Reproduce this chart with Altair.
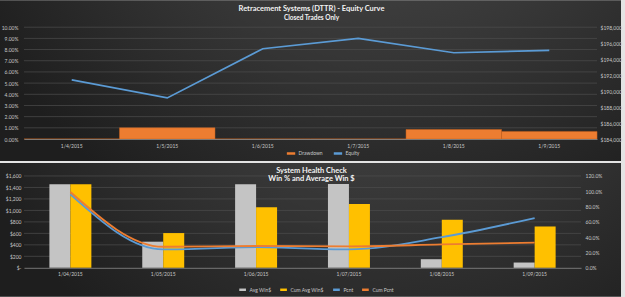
import altair as alt
import pandas as pd

# ---- Equity curve (closed trades) ----
top_dates = ["1/4/2015", "1/5/2015", "1/6/2015", "1/7/2015", "1/8/2015", "1/9/2015"]
drawdown = [0.0, 0.010, 0.0, 0.0, 0.0085, 0.0068]
equity = [191400, 189150, 195300, 196600, 194800, 195100]
pct_ticks = [0.00, 0.01, 0.02, 0.03, 0.04, 0.05, 0.06, 0.07, 0.08, 0.09, 0.10]
equity_ticks = [184000, 186000, 188000, 190000, 192000, 194000, 196000, 198000]

# ---- System health check ----
bottom_dates = ["1/04/2015", "1/05/2015", "1/06/2015", "1/07/2015", "1/08/2015", "1/09/2015"]
avg_win = [1455, 455, 1455, 1460, 150, 92]
cum_avg_win = [1455, 605, 1055, 1110, 835, 720]
pcnt = [0.96, 0.24, 0.27, 0.24, 0.40, 0.65]
cum_pcnt = [0.99, 0.275, 0.285, 0.28, 0.305, 0.33]
dollar_ticks = [0, 200, 400, 600, 800, 1000, 1200, 1400, 1600]
win_pct_ticks = [0.0, 0.2, 0.4, 0.6, 0.8, 1.0, 1.2]

FONT = "Lato"
LABEL = "#c8c8c8"
GRID = "#4e4e4e"
LEFT = 24  # room for the left axis labels in both panels

panel_fill = alt.RadialGradient(
    gradient="radial",
    x1=0.62, y1=0.05, r1=0.0,
    x2=0.62, y2=0.05, r2=0.75,
    stops=[
        alt.GradientStop(offset=0, color="#525252"),
        alt.GradientStop(offset=0.55, color="#363636"),
        alt.GradientStop(offset=1, color="#1e1e1e"),
    ],
)

one_row = alt.Data(values=[{}])


def axis_style(**kw):
    base = dict(labelFont=FONT, labelFontSize=5, labelColor=LABEL, domain=False,
                ticks=False, grid=False, title=None, labelPadding=2, zindex=1)
    base.update(kw)
    return alt.Axis(**base)


# ================= top panel =================
TW, TH = 574, 112

top_df = pd.DataFrame({"Date": top_dates, "Drawdown": drawdown, "Equity": equity})
top_grid_df = pd.DataFrame({"v": pct_ticks[1:]})

top_x = alt.X("Date:N", sort=top_dates,
              scale=alt.Scale(domain=top_dates, paddingInner=0, paddingOuter=0),
              axis=axis_style(labelAngle=0, domain=True, domainColor="#8c8c8c",
                              domainWidth=0.8, labelPadding=4))

top_pct_axis = axis_style(orient="left", values=pct_ticks, format=".2%", labelPadding=6)
top_pct_scale = alt.Scale(domain=[0, 0.10], nice=False)
top_colors = alt.Scale(domain=["Drawdown", "Equity"], range=["#ed7d31", "#5b9bd5"])

top_bg = alt.Chart(one_row).mark_rect(fill=panel_fill).encode(
    x=alt.value(-LEFT), x2=alt.value(622 - LEFT), y=alt.value(-27), y2=alt.value(TH + 22)
)

top_grid = alt.Chart(top_grid_df).mark_rule(color=GRID, strokeWidth=0.7).encode(
    y=alt.Y("v:Q", scale=top_pct_scale, axis=top_pct_axis)
)

dd_bars = alt.Chart(top_df).transform_calculate(s="'Drawdown'").mark_bar(
    stroke="#c8641e", strokeWidth=0.5
).encode(
    x=top_x,
    y=alt.Y("Drawdown:Q", scale=top_pct_scale, axis=top_pct_axis),
    color=alt.Color("s:N", scale=top_colors,
                    legend=alt.Legend(orient="none", legendX=262, legendY=121,
                                      direction="horizontal", title=None)),
)

equity_line = alt.Chart(top_df).transform_calculate(s="'Equity'").mark_line(
    strokeWidth=1.6
).encode(
    x=top_x,
    y=alt.Y("Equity:Q", scale=alt.Scale(domain=[184000, 198000], nice=False, zero=False),
            axis=axis_style(orient="right", values=equity_ticks, format="$,.0f",
                            labelPadding=3)),
    color=alt.Color("s:N", scale=top_colors),
)

top_title = alt.Chart(one_row).mark_text(
    text="Retracement Systems (DTTR) - Equity Curve", font=FONT, fontSize=7.5,
    fontWeight="bold", color="#f2f2f2", align="center", baseline="middle"
).encode(x=alt.value(312 - LEFT), y=alt.value(-18))

top_sub = alt.Chart(one_row).mark_text(
    text="Closed Trades Only", font=FONT, fontSize=6.5, fontWeight="bold",
    color="#f2f2f2", align="center", baseline="middle"
).encode(x=alt.value(312 - LEFT), y=alt.value(-9.5))

top = alt.layer(
    top_bg, alt.layer(top_grid, dd_bars), equity_line, top_title, top_sub
).resolve_scale(y="independent").properties(width=TW, height=TH)

# ================= bottom panel =================
BW, BH = 558, 92

bar_df = pd.DataFrame({
    "Date": bottom_dates * 2,
    "Series": ["Avg Win$"] * 6 + ["Cum Avg Win$"] * 6,
    "Value": avg_win + cum_avg_win,
})
line_df = pd.DataFrame({
    "Date": bottom_dates * 2,
    "Series": ["Pcnt"] * 6 + ["Cum Pcnt"] * 6,
    "Pct": pcnt + cum_pcnt,
})
bottom_grid_df = pd.DataFrame({"v": dollar_ticks[1:]})

series_names = ["Avg Win$", "Cum Avg Win$", "Pcnt", "Cum Pcnt"]
bottom_colors = alt.Scale(domain=series_names,
                          range=["#c4c4c4", "#ffc000", "#5b9bd5", "#ed7d31"])

bottom_x = alt.X("Date:N", sort=bottom_dates,
                 scale=alt.Scale(domain=bottom_dates, paddingInner=0.548, paddingOuter=0.274),
                 axis=axis_style(labelAngle=0, domain=True, domainColor="#8c8c8c",
                                 domainWidth=0.8, labelPadding=4))

dollar_axis = axis_style(orient="left", values=dollar_ticks, labelPadding=3,
                         labelExpr="datum.value == 0 ? '$-' : format(datum.value, '$,')")
dollar_scale = alt.Scale(domain=[0, 1600], nice=False)

bottom_bg = alt.Chart(one_row).mark_rect(fill=panel_fill).encode(
    x=alt.value(-LEFT), x2=alt.value(622 - LEFT), y=alt.value(-13), y2=alt.value(BH + 29)
)

bottom_grid = alt.Chart(bottom_grid_df).mark_rule(color=GRID, strokeWidth=0.7).encode(
    y=alt.Y("v:Q", scale=dollar_scale, axis=dollar_axis)
)

win_bars = alt.Chart(bar_df).mark_bar().encode(
    x=bottom_x,
    xOffset=alt.XOffset("Series:N", sort=["Avg Win$", "Cum Avg Win$"],
                        scale=alt.Scale(domain=["Avg Win$", "Cum Avg Win$"],
                                        paddingInner=0, paddingOuter=0)),
    y=alt.Y("Value:Q", scale=dollar_scale, axis=dollar_axis),
    color=alt.Color("Series:N", scale=bottom_colors,
                    legend=alt.Legend(orient="none", legendX=214, legendY=109,
                                      direction="horizontal", title=None,
                                      columnPadding=3, symbolSize=45)),
)

pct_lines = alt.Chart(line_df).mark_line(strokeWidth=1.8, interpolate="monotone").encode(
    x=bottom_x,
    y=alt.Y("Pct:Q", scale=alt.Scale(domain=[0, 1.2], nice=False),
            axis=axis_style(orient="right", values=win_pct_ticks, format=".1%",
                            labelPadding=4)),
    color=alt.Color("Series:N", scale=bottom_colors),
    detail="Series:N",
)

bottom_title = alt.Chart(one_row).mark_text(
    text="System Health Check", font=FONT, fontSize=7.5, fontWeight="bold",
    color="#f2f2f2", align="center", baseline="middle"
).encode(x=alt.value(312 - LEFT), y=alt.value(-4.5))

bottom_sub = alt.Chart(one_row).mark_text(
    text="Win % and Average Win $", font=FONT, fontSize=7.5, fontWeight="bold",
    color="#f2f2f2", align="center", baseline="middle"
).encode(x=alt.value(312 - LEFT), y=alt.value(3.2))

bottom = alt.layer(
    bottom_bg, alt.layer(bottom_grid, win_bars), pct_lines, bottom_title, bottom_sub
).resolve_scale(y="independent").properties(width=BW, height=BH)

chart = alt.vconcat(top, bottom, spacing=2).resolve_scale(
    color="independent"
).properties(
    padding={"left": 0, "top": 0, "right": 3, "bottom": 0},
    background="#e4e4e4",
).configure_view(stroke=None).configure_legend(
    symbolType="stroke", symbolStrokeWidth=2.5, symbolSize=70,
    labelFont=FONT, labelFontSize=5, labelColor=LABEL, labelOffset=2,
    columnPadding=5, padding=0, gridAlign="none",
)

chart.save("out.html", embed_options={"renderer": "svg", "actions": False})
